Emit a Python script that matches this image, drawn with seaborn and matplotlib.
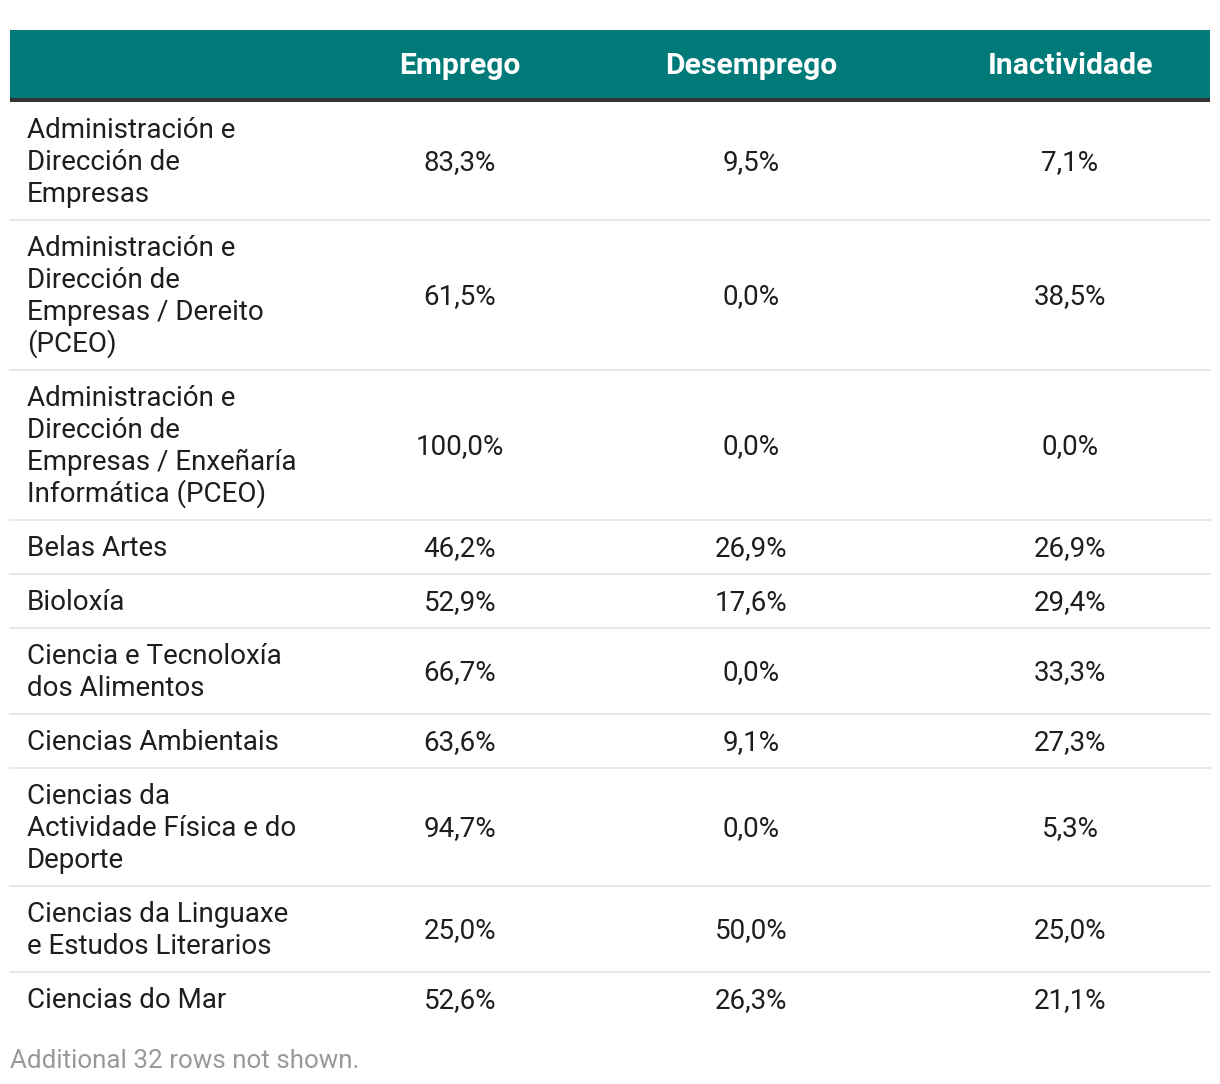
import numpy as np
import matplotlib.pyplot as plt
import pandas as pd
import seaborn as sns

sns.set_style("white")
plt.rcParams['font.family'] = ['Roboto', 'DejaVu Sans']

# table data
columns = ["Emprego", "Desemprego", "Inactividade"]
degrees = [
    "Administración e\nDirección de\nEmpresas",
    "Administración e\nDirección de\nEmpresas / Dereito\n(PCEO)",
    "Administración e\nDirección de\nEmpresas / Enxeñaría\nInformática (PCEO)",
    "Belas Artes",
    "Bioloxía",
    "Ciencia e Tecnoloxía\ndos Alimentos",
    "Ciencias Ambientais",
    "Ciencias da\nActividade Física e do\nDeporte",
    "Ciencias da Linguaxe\ne Estudos Literarios",
    "Ciencias do Mar",
]
emprego = [83.3, 61.5, 100.0, 46.2, 52.9, 66.7, 63.6, 94.7, 25.0, 52.6]
desemprego = [9.5, 0.0, 0.0, 26.9, 17.6, 0.0, 9.1, 0.0, 50.0, 26.3]
inactividade = [7.1, 38.5, 0.0, 26.9, 29.4, 33.3, 27.3, 5.3, 25.0, 21.1]
footnote = "Additional 32 rows not shown."

df = pd.DataFrame({"Titulación": degrees, "Emprego": emprego,
                   "Desemprego": desemprego, "Inactividade": inactividade})

W, H = 1220, 1084
fig = plt.figure(figsize=(W / 100, H / 100), dpi=100)
ax = fig.add_axes([0, 0, 1, 1])
ax.set_xlim(0, W)
ax.set_ylim(H, 0)
ax.axis("off")

teal = "#007a78"
left, right = 10, 1210
col_x = [460, 751, 1070]
line_h = 32
pad = 22
fs = 20

# header
ax.add_patch(plt.Rectangle((left, 30), right - left, 67.5, color=teal, lw=0))
ax.add_patch(plt.Rectangle((left, 97.5), right - left, 4, color="#333333", lw=0))
for x, c in zip(col_x, columns):
    ax.text(x, 73.5, c, ha="center", va="baseline", color="white",
            fontsize=21.7, fontweight="bold")

y = 101.5
for i, row in df.iterrows():
    lines = row["Titulación"].split("\n")
    h = len(lines) * line_h + pad
    cy = y + h / 2
    for k, ln in enumerate(lines):
        ly = cy + (k - (len(lines) - 1) / 2) * line_h + 9.5
        ax.text(27, ly, ln, ha="left", va="baseline", color="#1e1e1e", fontsize=fs)
    for x, c in zip(col_x, columns):
        val = f"{row[c]:.1f}%".replace(".", ",")
        ax.text(x, cy + 9.5, val, ha="center", va="baseline", color="#1e1e1e", fontsize=fs)
    y += h
    if i < len(df) - 1:
        ax.plot([left, right], [y, y], color="#e8e8e8", lw=1.5)

ax.text(10, 1068, footnote, ha="left", va="baseline", color="#999999", fontsize=18.7)

fig.savefig("out.png", dpi=100)
